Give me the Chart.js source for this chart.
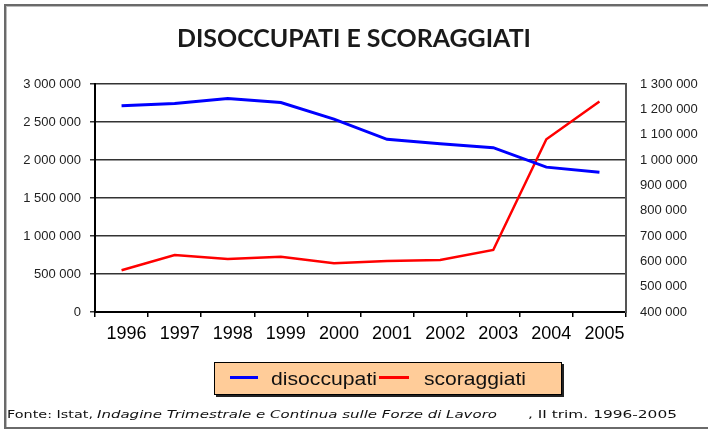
<!DOCTYPE html>
<html><head><meta charset="utf-8">
<script src="https://cdn.jsdelivr.net/npm/chart.js@4/dist/chart.umd.min.js"></script>
<style>
html,body{margin:0;padding:0;background:#fff;}
#wrap{position:relative;width:708px;height:429px;overflow:hidden;}
canvas{position:absolute;left:0;top:0;}
#frame{position:absolute;left:4px;top:4px;width:704px;height:425px;border:2px solid #6a6a6a;border-right:none;border-bottom:2px solid #6a6a6a;box-sizing:border-box;box-shadow:inset 1px 1px 0 #bbb;}
.t{position:absolute;white-space:nowrap;transform-origin:0 0;}
#title{left:177px;top:26px;font:700 24px/24px Lato;color:#1a1a1a;}
#legend{position:absolute;left:214px;top:362px;width:348px;height:33px;background:#FFCC99;border:1px solid #000;box-shadow:2px 2px 0 #222;box-sizing:border-box;}
.sw{position:absolute;height:3px;}
.lg{font:19px/19px "Liberation Sans";color:#111;top:369px;}
.ft{font:10px/10px "DejaVu Sans";color:#111;top:410px;}
</style>
</head><body>
<div id="wrap">
<canvas id="c" width="708" height="429"></canvas>
<div id="frame"></div>
<div id="title" class="t" data-w="354">DISOCCUPATI E SCORAGGIATI</div>
<div id="legend"></div>
<div class="sw" style="left:230px;top:376px;width:28px;background:#0000ff"></div>
<div class="t lg" style="left:271px" data-w="106">disoccupati</div>
<div class="sw" style="left:379px;top:376px;width:30px;background:#ff0000"></div>
<div class="t lg" style="left:424px" data-w="102">scoraggiati</div>
<div class="t ft" style="left:7px" data-w="86">Fonte: Istat,</div>
<div class="t ft" style="left:97px;font-style:italic" data-w="400">Indagine Trimestrale e Continua sulle Forze di Lavoro</div>
<div class="t ft" style="left:528px" data-w="149">, II trim. 1996-2005</div>
</div>
<script>
const years = ['1996','1997','1998','1999','2000','2001','2002','2003','2004','2005'];
const disoccupati = [2713000, 2744000, 2810000, 2757000, 2537000, 2272000, 2215000, 2162000, 1906000, 1840000];
const scoraggiati = [565000, 625000, 609000, 618000, 592000, 601000, 605000, 645000, 1082000, 1231000];
const leftTicks = [0, 500000, 1000000, 1500000, 2000000, 2500000, 3000000];
const rightTicks = [400000, 500000, 600000, 700000, 800000, 900000, 1000000, 1100000, 1200000, 1300000];

document.querySelectorAll('[data-w]').forEach(el => {
  const w = el.getBoundingClientRect().width;
  el.style.transform = 'scaleX(' + (parseFloat(el.dataset.w) / w) + ')';
});

function fmt(v){ return String(v).replace(/\B(?=(\d{3})+(?!\d))/g, ' '); }

new Chart(document.getElementById('c'), {
  type: 'line',
  data: {
    labels: years,
    datasets: [
      {label:'disoccupati', data: disoccupati, yAxisID:'y', borderColor:'#0000ff', borderWidth:3, pointRadius:0, tension:0, fill:false},
      {label:'scoraggiati', data: scoraggiati, yAxisID:'y1', borderColor:'#ff0000', borderWidth:2.5, pointRadius:0, tension:0, fill:false}
    ]
  },
  options: {
    responsive:false, animation:false, devicePixelRatio:1,
    layout:{padding:{top:84, bottom:77, left:0, right:0}},
    plugins:{legend:{display:false}, title:{display:false}, tooltip:{enabled:false}},
    scales:{
      x:{
        offset:true,
        grid:{display:true, drawOnChartArea:false, drawTicks:true, tickLength:5, color:'#000', lineWidth:1.5, offset:true},
        border:{display:true, color:'#000', width:2},
        ticks:{font:{family:'Liberation Sans', size:18}, color:'#000', padding:6, labelOffset:5, maxRotation:0, autoSkip:false},
        afterFit(s){ s.height = 40; }
      },
      y:{
        position:'left', min:0, max:3000000,
        afterBuildTicks(s){ s.ticks = leftTicks.map(v => ({value:v})); },
        grid:{color:'#333', lineWidth:1.5, tickLength:5, drawTicks:true},
        border:{display:true, color:'#000', width:2},
        ticks:{font:{family:'Liberation Sans', size:13}, color:'#222', padding:9, callback:v => fmt(v)},
        afterFit(s){ s.width = 95; }
      },
      y1:{
        position:'right', min:400000, max:1300000,
        afterBuildTicks(s){ s.ticks = rightTicks.map(v => ({value:v})); },
        grid:{display:true, drawOnChartArea:false, drawTicks:false},
        border:{display:true, color:'#555', width:2},
        ticks:{font:{family:'Liberation Sans', size:13}, color:'#222', padding:14, callback:v => fmt(v)},
        afterFit(s){ s.width = 82; }
      }
    }
  }
});
</script>
</body></html>
